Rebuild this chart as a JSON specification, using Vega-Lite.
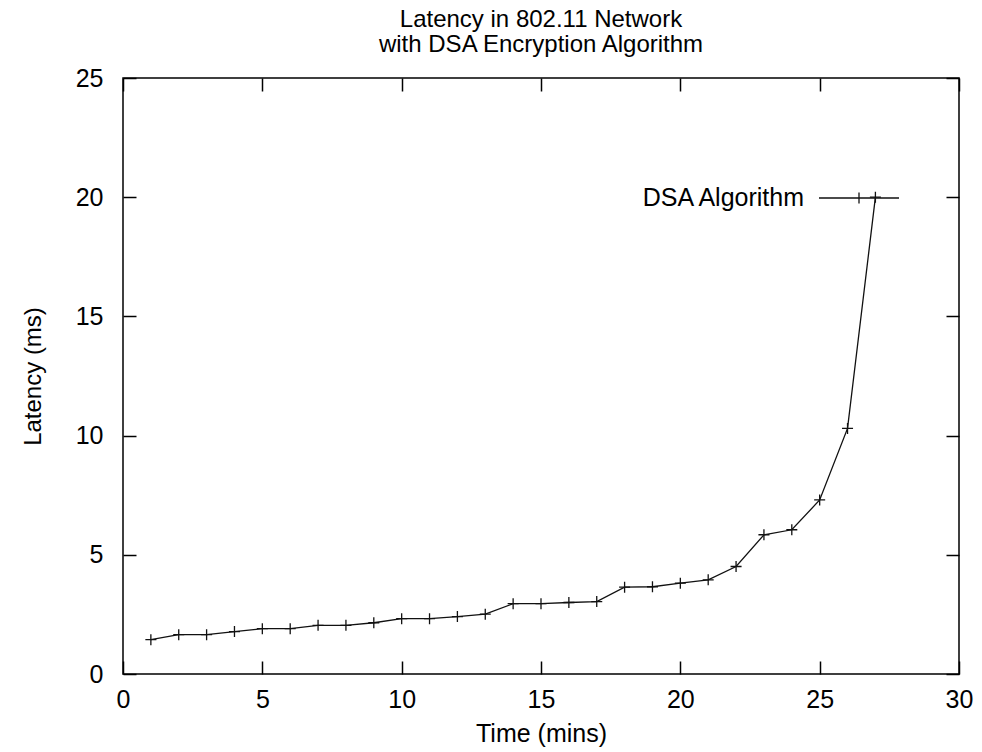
{
  "$schema": "https://vega.github.io/schema/vega-lite/v6.json",
  "autosize": "none",
  "width": 836,
  "height": 596,
  "padding": {"left": 123, "top": 78, "right": 23, "bottom": 78},
  "background": "white",
  "title": {
    "text": ["Latency in 802.11 Network", "with DSA Encryption Algorithm"],
    "anchor": "middle",
    "fontSize": 24,
    "fontWeight": "normal",
    "lineHeight": 25,
    "color": "black",
    "offset": 9
  },
  "data": {
    "values": [
      {"time": 1, "latency": 1.44, "series": "DSA Algorithm"},
      {"time": 2, "latency": 1.65, "series": "DSA Algorithm"},
      {"time": 3, "latency": 1.65, "series": "DSA Algorithm"},
      {"time": 4, "latency": 1.78, "series": "DSA Algorithm"},
      {"time": 5, "latency": 1.9, "series": "DSA Algorithm"},
      {"time": 6, "latency": 1.9, "series": "DSA Algorithm"},
      {"time": 7, "latency": 2.04, "series": "DSA Algorithm"},
      {"time": 8, "latency": 2.04, "series": "DSA Algorithm"},
      {"time": 9, "latency": 2.15, "series": "DSA Algorithm"},
      {"time": 10, "latency": 2.32, "series": "DSA Algorithm"},
      {"time": 11, "latency": 2.32, "series": "DSA Algorithm"},
      {"time": 12, "latency": 2.41, "series": "DSA Algorithm"},
      {"time": 13, "latency": 2.51, "series": "DSA Algorithm"},
      {"time": 14, "latency": 2.95, "series": "DSA Algorithm"},
      {"time": 15, "latency": 2.95, "series": "DSA Algorithm"},
      {"time": 16, "latency": 3.0, "series": "DSA Algorithm"},
      {"time": 17, "latency": 3.04, "series": "DSA Algorithm"},
      {"time": 18, "latency": 3.64, "series": "DSA Algorithm"},
      {"time": 19, "latency": 3.66, "series": "DSA Algorithm"},
      {"time": 20, "latency": 3.81, "series": "DSA Algorithm"},
      {"time": 21, "latency": 3.95, "series": "DSA Algorithm"},
      {"time": 22, "latency": 4.51, "series": "DSA Algorithm"},
      {"time": 23, "latency": 5.84, "series": "DSA Algorithm"},
      {"time": 24, "latency": 6.05, "series": "DSA Algorithm"},
      {"time": 25, "latency": 7.3, "series": "DSA Algorithm"},
      {"time": 26, "latency": 10.3, "series": "DSA Algorithm"},
      {"time": 27, "latency": 20.0, "series": "DSA Algorithm"}
    ]
  },
  "layer": [
    {
      "mark": {"type": "line", "strokeWidth": 1.3, "clip": true},
      "encoding": {
        "x": {
          "field": "time", "type": "quantitative",
          "scale": {"domain": [0, 30], "nice": false, "zero": false},
          "axis": {"orient": "bottom", "values": [0, 5, 10, 15, 20, 25, 30], "title": "Time (mins)", "labelPadding": 26, "titlePadding": 9}
        },
        "y": {
          "field": "latency", "type": "quantitative",
          "scale": {"domain": [0, 25], "nice": false},
          "axis": {"orient": "left", "values": [0, 5, 10, 15, 20, 25], "title": "Latency (ms)", "titleFontSize": 24, "labelPadding": 33, "titlePadding": 30}
        },
        "color": {
          "field": "series", "type": "nominal",
          "scale": {"range": ["#111111"]},
          "legend": {
            "orient": "none",
            "legendX": 695,
            "legendY": 79,
            "title": null,
            "padding": 0,
            "labelFontSize": 25,
            "labelColor": "black",
            "labelAlign": "right",
            "labelOffset": -96,
            "labelLimit": 0,
            "symbolType": "M-1,0H1M0,-0.14V0.14",
            "symbolSize": 6400,
            "symbolStrokeWidth": 1.3,
            "symbolStrokeColor": "#111111",
            "symbolFillColor": "transparent"
          }
        }
      }
    },
    {
      "mark": {"type": "point", "shape": "M-1,0H1M0,-1V1", "size": 121, "filled": false, "strokeWidth": 1.3, "color": "#111111", "opacity": 1},
      "encoding": {
        "x": {
          "field": "time", "type": "quantitative",
          "axis": {"orient": "top", "values": [0, 5, 10, 15, 20, 25, 30], "labels": false, "title": null}
        },
        "y": {
          "field": "latency", "type": "quantitative",
          "axis": {"orient": "right", "values": [0, 5, 10, 15, 20, 25], "labels": false, "title": null}
        }
      }
    }
  ],
  "resolve": {"axis": {"x": "independent", "y": "independent"}},
  "config": {
    "font": "Liberation Sans",
    "view": {"stroke": "black", "strokeWidth": 1.5},
    "axis": {
      "domain": false,
      "grid": false,
      "ticks": true,
      "tickSize": -13,
      "tickColor": "black",
      "tickWidth": 1.5,
      "labelFontSize": 25,
      "labelColor": "black",
      "labelFlush": false,
      "labelOverlap": false,
      "titleFontSize": 25,
      "titleFontWeight": "normal",
      "titleColor": "black"
    }
  }
}
